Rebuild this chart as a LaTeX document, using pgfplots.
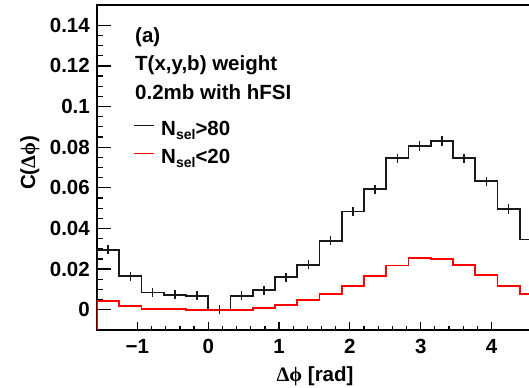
\documentclass[border=0pt]{standalone}
\usepackage{fontspec}
\setmainfont{Liberation Sans}
\newfontfamily\gr{Liberation Serif}
\usepackage{pgfplots}
\pgfplotsset{compat=1.18}
\newcommand\F{\fontsize{20.5bp}{24bp}\selectfont\bfseries}
\newcommand\sub[1]{\raisebox{-4bp}{\fontsize{14bp}{14bp}\selectfont\bfseries #1}}
\pgfplotstableread{
x y
-1.5708 -0.0100
-1.5708 0.0295
-1.2566 0.0164
-0.9425 0.0085
-0.6283 0.0074
-0.3142 0.0069
0.0000 0.0000
0.3142 0.0069
0.6283 0.0095
0.9425 0.0159
1.2566 0.0221
1.5708 0.0340
1.8850 0.0483
2.1991 0.0593
2.5133 0.0745
2.8274 0.0806
3.1416 0.0830
3.4558 0.0745
3.7699 0.0632
4.0841 0.0496
4.3982 0.0346
4.7124 0.0346
}\high
\pgfplotstableread{
x y
-1.5708 -0.0100
-1.5708 0.0042
-1.2566 0.0019
-0.9425 0.0004
-0.6283 0.0003
-0.3142 0.0000
0.0000 0.0000
0.3142 0.0000
0.6283 0.0008
0.9425 0.0025
1.2566 0.0046
1.5708 0.0079
1.8850 0.0118
2.1991 0.0167
2.5133 0.0218
2.8274 0.0254
3.1416 0.0251
3.4558 0.0221
3.7699 0.0170
4.0841 0.0118
4.3982 0.0076
4.7124 0.0076
}\low
\pgfplotstableread{
x y e
-1.4137 0.0295 0.0023
-1.0996 0.0164 0.0023
-0.7854 0.0085 0.0023
-0.4712 0.0074 0.0023
-0.1571 0.0069 0.0023
0.1571 0.0000 0.0023
0.4712 0.0069 0.0023
0.7854 0.0095 0.0023
1.0996 0.0159 0.0023
1.4137 0.0221 0.0023
1.7279 0.0340 0.0023
2.0420 0.0483 0.0023
2.3562 0.0593 0.0023
2.6704 0.0745 0.0023
2.9845 0.0806 0.0023
3.2987 0.0830 0.0023
3.6128 0.0745 0.0023
3.9270 0.0632 0.0023
4.2412 0.0496 0.0023
4.5553 0.0346 0.0023
}\higherr
\begin{document}
\begin{tikzpicture}
\useasboundingbox (-97bp,-58bp) rectangle (432bp,330bp);
\clip (-97bp,-58bp) rectangle (432bp,330bp);
\begin{axis}[
  scale only axis, width=445bp, height=325bp,
  at={(0,0)}, anchor=south west,
  xmin=-1.5708, xmax=4.7124, ymin=-0.01, ymax=0.15,
  axis line style={line width=1.5bp},
  xtick pos=bottom, ytick pos=left,
  tick align=inside,
  major tick length=14bp, minor tick length=6bp,
  tick style={line width=1.2bp, black},
  xtick style={/pgfplots/major tick length=8bp, /pgfplots/minor tick length=4bp},
  xtick={-1,0,1,2,3,4}, xticklabels={−1,0,1,2,3,4},
  ytick={0,0.02,0.04,0.06,0.08,0.1,0.12,0.14},
  yticklabels={0,0.02,0.04,0.06,0.08,0.1,0.12,0.14},
  minor x tick num=4, minor y tick num=3,
  ticklabel style={font=\F, inner sep=0pt},
  xticklabel style={anchor=north, yshift=-9bp},
  yticklabel style={anchor=east, xshift=-7bp},
  xlabel={{\gr Δϕ} [rad]},
  ylabel={C({\gr Δϕ})},
  every axis x label/.style={at={(rel axis cs:0.49,-0.157)}, anchor=base, font=\F, inner sep=0pt},
  every axis y label/.style={at={(rel axis cs:-0.1506,0.514)}, rotate=90, anchor=center, font=\F, inner sep=0pt},
  legend style={at={(rel axis cs:0.081,0.646)}, anchor=north west, draw=none, fill=none,
    inner sep=0pt, row sep=7bp, column sep=7bp, font=\F,
    nodes={inner sep=0pt, text height=15bp, text depth=6bp}},
  legend cell align=left,
  legend image code/.code={\draw[#1, line width=1bp] (0bp,5.5bp) -- (20bp,5.5bp);},
]
\addplot[const plot, draw=black!90, line width=1.8bp] table[x=x,y=y] {\high};
\addlegendentry{N\sub{sel}>80}
\addplot[const plot, draw=red, line width=1.8bp] table[x=x,y=y] {\low};
\addlegendentry{N\sub{sel}<20}
\addplot[draw=none, mark=none, forget plot, error bars/.cd, y dir=both, y explicit,
  error mark=none, error bar style={line width=1.3bp, black!90}]
  table[x=x, y=y, y error=e] {\higherr};
\end{axis}
\node[anchor=base west, font=\F, inner sep=0pt] at (38bp,287.3bp) {(a)};
\node[anchor=base west, font=\F, inner sep=0pt] at (38bp,259bp) {T(x,y,b) weight};
\node[anchor=base west, font=\F, inner sep=0pt] at (38bp,230bp) {0.2mb with hFSI};
\end{tikzpicture}
\end{document}
